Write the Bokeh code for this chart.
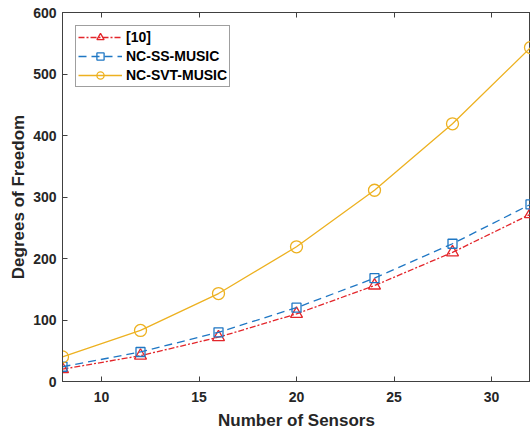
from bokeh.plotting import figure
from bokeh.models import LinearAxis, Range1d, FixedTicker, Legend, LegendItem
from bokeh.embed import file_html
from bokeh.resources import INLINE

sensors = [8, 12, 16, 20, 24, 28, 32]
dof_ref10 = [20, 42, 72, 110, 156, 210, 272]
dof_ss = [24, 48, 80, 120, 168, 224, 288]
dof_svt = [40, 83, 143, 219, 311, 419, 543]
x_ticks = [10, 15, 20, 25, 30]
y_ticks = [0, 100, 200, 300, 400, 500, 600]

RED = "#e3262b"
BLUE = "#1f77c4"
ORANGE = "#edb120"
AX = "#404040"
FONT = "Liberation Sans"

p = figure(width=530, height=432, x_range=Range1d(8, 32), y_range=Range1d(0, 600),
           output_backend="svg", toolbar_location=None,
           min_border_left=62, min_border_right=0, min_border_top=12, min_border_bottom=50)
p.grid.visible = False
p.outline_line_color = AX
p.outline_line_width = 1
p.background_fill_color = "white"
p.border_fill_color = "white"

def style(ax):
    ax.axis_line_color = AX
    ax.major_tick_line_color = AX
    ax.minor_tick_line_color = None
    ax.major_tick_in = 5
    ax.major_tick_out = 0
    ax.major_label_text_font = FONT
    ax.major_label_text_font_style = "bold"
    ax.major_label_text_font_size = "14px"
    ax.major_label_text_color = "#262626"
    ax.axis_label_text_font = FONT
    ax.axis_label_text_font_style = "bold"
    ax.axis_label_text_font_size = "17px"
    ax.axis_label_text_color = "#262626"

p.xaxis.ticker = FixedTicker(ticks=x_ticks)
p.yaxis.ticker = FixedTicker(ticks=y_ticks)
p.xaxis.axis_label = "Number of Sensors"
p.yaxis.axis_label = "Degrees of Freedom"
style(p.xaxis[0])
style(p.yaxis[0])
p.xaxis.major_label_standoff = 10
p.xaxis.axis_label_standoff = 6
p.yaxis.major_label_standoff = 6
p.yaxis.axis_label_standoff = 2

top = LinearAxis(ticker=FixedTicker(ticks=x_ticks))
style(top)
top.major_label_text_font_size = "1px"
top.major_label_text_alpha = 0
top.major_label_standoff = 0
p.add_layout(top, "above")

l1 = p.line(sensors, dof_ref10, line_color=RED, line_width=1.3, line_dash="6 2 2 2")
m1 = p.scatter(sensors, dof_ref10, marker="triangle", size=12, fill_color=None,
               line_color=RED, line_width=1.3)
l2 = p.line(sensors, dof_ss, line_color=BLUE, line_width=1.3, line_dash="8 5")
m2 = p.scatter(sensors, dof_ss, marker="square", size=9, fill_color=None,
               line_color=BLUE, line_width=1.3)
l3 = p.line(sensors, dof_svt, line_color=ORANGE, line_width=1.3)
m3 = p.scatter(sensors, dof_svt, marker="circle", size=12, fill_color=None,
               line_color=ORANGE, line_width=1.3)

legend = Legend(items=[
    LegendItem(label="[10]", renderers=[l1, m1]),
    LegendItem(label="NC-SS-MUSIC", renderers=[l2, m2]),
    LegendItem(label="NC-SVT-MUSIC", renderers=[l3, m3]),
], location="top_left")
legend.label_text_font = FONT
legend.label_text_font_style = "bold"
legend.label_text_font_size = "14px"
legend.label_text_color = "#000000"
legend.glyph_width = 44
legend.glyph_height = 18
legend.label_standoff = 4
legend.spacing = 1
legend.padding = 2
legend.margin = 13
legend.border_line_color = AX
legend.border_line_width = 1
legend.background_fill_alpha = 1
p.add_layout(legend, "center")

open("out.html", "w").write(file_html(p, INLINE))
